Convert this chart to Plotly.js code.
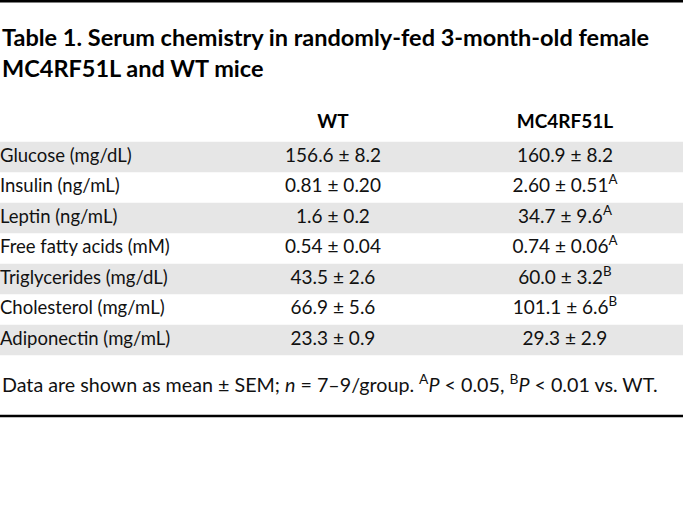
<!DOCTYPE html>
<html>
<head>
<meta charset="utf-8">
<script src="https://cdn.plot.ly/plotly-3.0.1.min.js"></script>
<style>html,body{margin:0;padding:0;background:#fff;}</style>
</head>
<body>
<div id="chart" style="width:683px;height:524px;"></div>
<script>
// ---- data ----
const titleLines = ["Table 1. Serum chemistry in randomly-fed 3-month-old female", "MC4RF51L and WT mice"];
const columnHeaders = ["WT", "MC4RF51L"];
const parameters = ["Glucose (mg/dL)", "Insulin (ng/mL)", "Leptin (ng/mL)", "Free fatty acids (mM)", "Triglycerides (mg/dL)", "Cholesterol (mg/mL)", "Adiponectin (mg/mL)"];
const wtMean = ["156.6", "0.81", "1.6", "0.54", "43.5", "66.9", "23.3"];
const wtSem = ["8.2", "0.20", "0.2", "0.04", "2.6", "5.6", "0.9"];
const mutMean = ["160.9", "2.60", "34.7", "0.74", "60.0", "101.1", "29.3"];
const mutSem = ["8.2", "0.51", "9.6", "0.06", "3.2", "6.6", "2.9"];
const mutSig = ["", "A", "A", "A", "B", "B", ""];
const footnote = "Data are shown as mean ± SEM; <i>n</i> = 7–9/group. <sup>A</sup><i>P</i> &lt; 0.05, <sup>B</sup><i>P</i> &lt; 0.01 vs. WT.";

// ---- layout constants ----
const W = 683, H = 524;
const rowPx = 30.5, firstRowPx = 157;
const lo = -firstRowPx / rowPx, hi = lo + H / rowPx;
const colX = {label: 0, wt: 333, mut: 565};
const font = "Lato, Roboto, sans-serif";
const textColor = "#111";
const band = "#e6e6e6";

const rows = parameters.map((_, i) => i);
const wtText = wtMean.map((m, i) => m + " ± " + wtSem[i]);
const mutText = mutMean.map((m, i) => m + " ± " + mutSem[i] + (mutSig[i] ? "<sup>" + mutSig[i] + "</sup>" : ""));
const headerRow = -1.1;
const py = px => 1 - px / H;

const traces = [
  {type: "scatter", mode: "text", x: rows.map(() => colX.label), y: rows, text: parameters,
   textposition: "middle right", marker: {size: 0}, textfont: {family: font, size: 18.5, color: textColor}, hoverinfo: "skip", showlegend: false, cliponaxis: false},
  {type: "scatter", mode: "text", x: rows.map(() => colX.wt), y: rows, text: wtText,
   textposition: "middle center", textfont: {family: font, size: 19, color: textColor}, hoverinfo: "skip", showlegend: false, cliponaxis: false},
  {type: "scatter", mode: "text", x: rows.map(() => colX.mut), y: rows, text: mutText,
   textposition: "middle center", textfont: {family: font, size: 19, color: textColor}, hoverinfo: "skip", showlegend: false, cliponaxis: false},
  {type: "scatter", mode: "text", x: [colX.wt, colX.mut], y: [headerRow, headerRow], text: columnHeaders.map(h => "<b>" + h + "</b>"),
   textposition: "middle center", textfont: {family: font, size: 19, color: "#000"}, hoverinfo: "skip", showlegend: false, cliponaxis: false}
];

const shapes = rows.filter(i => i % 2 === 0).map(i => ({
  type: "rect", xref: "paper", yref: "y", x0: 0, x1: 1, y0: i - 0.5, y1: i + 0.5,
  fillcolor: band, line: {width: 0}, layer: "below"
}));
shapes.push({type: "line", xref: "paper", yref: "paper", x0: 0, x1: 1, y0: py(1), y1: py(1), line: {color: "#000", width: 3}});
shapes.push({type: "line", xref: "paper", yref: "paper", x0: 0, x1: 1, y0: py(416), y1: py(416), line: {color: "#000", width: 2.5}});

const annotations = [
  {text: "<b>" + titleLines[0] + "</b>", xref: "paper", yref: "paper", x: 0, y: py(37), xanchor: "left", yanchor: "middle", showarrow: false, font: {family: font, size: 23.5, color: "#000"}},
  {text: "<b>" + titleLines[1] + "</b>", xref: "paper", yref: "paper", x: 0, y: py(68), xanchor: "left", yanchor: "middle", showarrow: false, font: {family: font, size: 23.5, color: "#000"}},
  {text: footnote, xref: "paper", yref: "paper", x: 0, y: py(383), xanchor: "left", yanchor: "middle", showarrow: false, font: {family: font, size: 19.7, color: textColor}}
];

const layout = {
  width: W, height: H, margin: {l: 0, r: 0, t: 0, b: 0},
  paper_bgcolor: "#fff", plot_bgcolor: "#fff",
  xaxis: {range: [0, W], visible: false, fixedrange: true},
  yaxis: {range: [hi, lo], visible: false, fixedrange: true},
  shapes: shapes, annotations: annotations, showlegend: false
};

Plotly.newPlot("chart", traces, layout, {displayModeBar: false, staticPlot: true});
</script>
</body>
</html>
